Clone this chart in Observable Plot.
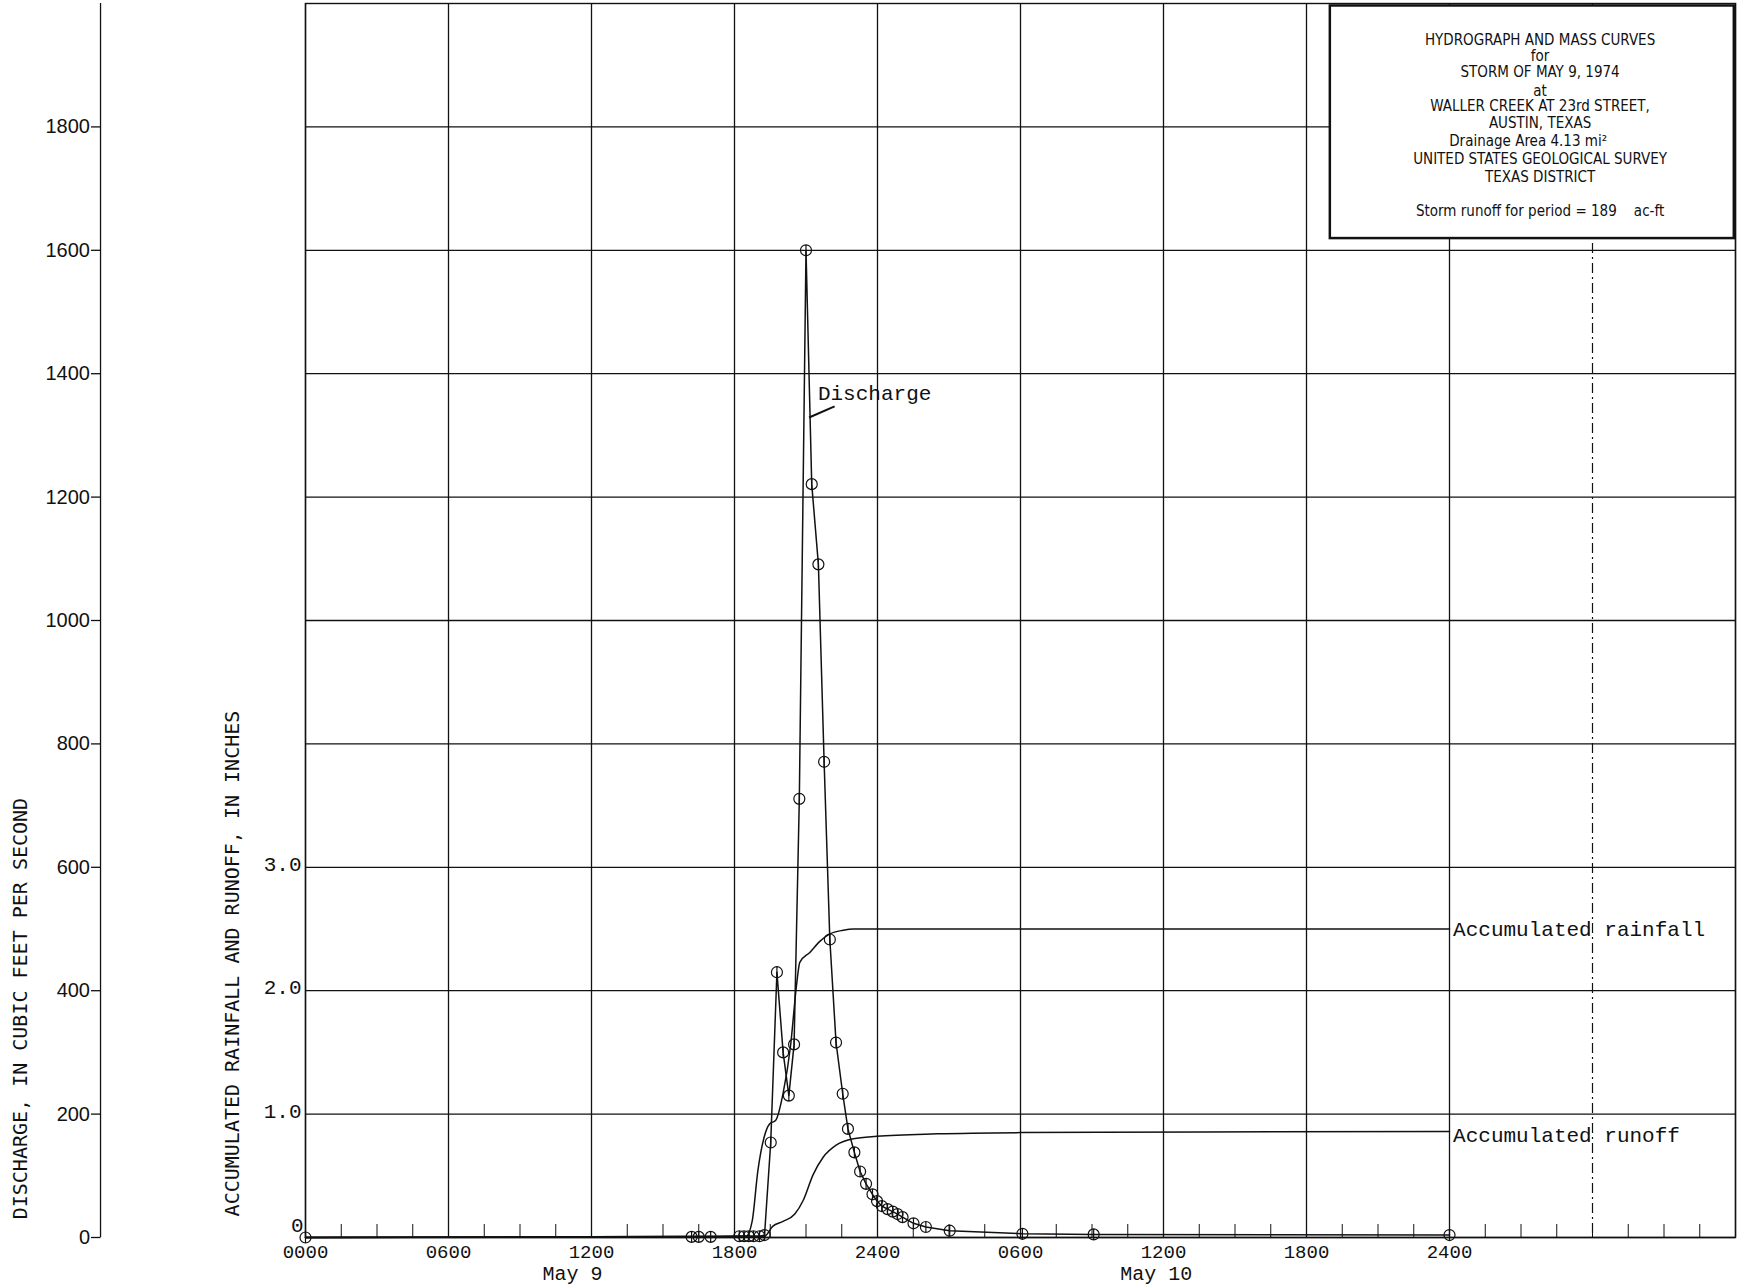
<!DOCTYPE html>
<html>
<head>
<meta charset="utf-8">
<script src="https://cdn.jsdelivr.net/npm/d3@7"></script>
<script src="https://cdn.jsdelivr.net/npm/@observablehq/plot@0.6"></script>
<style>
  body { margin: 0; background: #fff; }
</style>
</head>
<body>
<div id="chart"></div>
<script>
// discharge, cfs (hours from 0000 May 9)
const qHours = [0, 16.2, 16.5, 17.0, 18.2, 18.4, 18.6, 18.8, 19.05, 19.26, 19.52, 19.78, 20.04, 20.28, 20.5, 20.72, 21.0, 21.24, 21.52, 21.76, 22.0,
  22.26, 22.54, 22.76, 23.03, 23.27, 23.52, 23.79, 23.98, 24.18, 24.42, 24.64, 24.84, 25.05, 25.51, 26.03, 27.03, 30.08, 33.07, 48.0];
const qCfs = [0, 1, 1, 1, 2, 2, 2, 2, 2, 4, 154, 430, 300, 230, 313, 711, 1600, 1221, 1091, 771, 483,
  316, 233, 176, 138, 107, 87, 70, 59, 51, 46, 42, 38, 33, 23, 17, 11, 6, 5, 4];

// accumulated rainfall, inches
const rainHours = [0, 18.49, 18.74, 18.98, 19.24, 19.47, 19.73, 20.04, 20.35, 20.6, 20.74, 21.16, 21.58, 22.0, 22.56, 22.99, 48.0];
const rainIn = [0, 0.01, 0.13, 0.54, 0.81, 0.92, 0.95, 1.17, 1.55, 2.04, 2.23, 2.31, 2.40, 2.46, 2.49, 2.50, 2.50];

// accumulated runoff, inches
const runHours = [0, 19.26, 19.6, 20.04, 20.53, 20.88, 21.3, 21.72, 22.28, 22.99, 23.97, 26.5, 30.0, 37.7, 48.0];
const runIn = [0, 0.01, 0.09, 0.13, 0.19, 0.30, 0.51, 0.65, 0.75, 0.80, 0.82, 0.84, 0.85, 0.855, 0.86];

const xTickHours = [0, 6, 12, 18, 24, 30, 36, 42, 48];
const xTickLabels = ["0000", "0600", "1200", "1800", "2400", "0600", "1200", "1800", "2400"];
const qTicks = [0, 200, 400, 600, 800, 1000, 1200, 1400, 1600, 1800];
const inTicks = [1, 2, 3];
const inTickLabels = ["1.0", "2.0", "3.0"];
const boxLines = ["HYDROGRAPH AND MASS CURVES", "for", "STORM OF MAY 9, 1974", "at",
  "WALLER CREEK AT 23rd STREET,", "AUSTIN, TEXAS", "Drainage Area 4.13 mi\u00B2",
  "UNITED STATES GEOLOGICAL SURVEY", "TEXAS DISTRICT", "Storm runoff for period = 189    ac-ft"];
const boxY = [1940, 1915, 1889, 1858, 1833, 1806, 1777, 1748, 1719, 1663];

const cfsPerInch = 200;
const discharge = qHours.map((h, i) => ({h, q: qCfs[i]}));
const rain = rainHours.map((h, i) => ({h, q: rainIn[i] * cfsPerInch}));
const runoff = runHours.map((h, i) => ({h, q: runIn[i] * cfsPerInch}));

const mono = "Liberation Mono, DejaVu Sans Mono, monospace";
const narrow = "Liberation Sans Narrow, DejaVu Sans Condensed, Liberation Sans, sans-serif";
const qAxisX = -8.6; // separate discharge axis, left of frame

// circle with a vertical stroke through it
const circleBar = {
  draw(ctx, size) {
    const r = Math.sqrt(size / Math.PI);
    ctx.moveTo(r, 0);
    ctx.arc(0, 0, r, 0, 2 * Math.PI);
    ctx.moveTo(0, -r);
    ctx.lineTo(0, r);
  }
};

const chart = Plot.plot({
  width: 1746,
  height: 1286,
  marginLeft: 305,
  marginRight: 11,
  marginTop: 3,
  marginBottom: 49,
  x: {domain: [0, 60], axis: null},
  y: {domain: [0, 2000], axis: null},
  style: {background: "#fff", color: "#111"},
  marks: [
    // grid
    Plot.ruleX(d3.range(0, 61, 6).filter(h => h !== 54), {stroke: "#111", strokeWidth: 1.3}),
    Plot.ruleX([54], {stroke: "#111", strokeWidth: 1.2, strokeDasharray: "10,4,2,4"}),
    Plot.ruleY(d3.range(200, 2000, 200), {stroke: "#111", strokeWidth: 1.3}),
    Plot.ruleY([0], {stroke: "#111", strokeWidth: 1.6}),
    Plot.ruleX(d3.range(0, 60, 1.5), {y1: 0, y2: 21, stroke: "#111", strokeWidth: 1}),
    Plot.frame({stroke: "#111", strokeWidth: 1.4}),

    // title box
    Plot.rect([0], {x1: 43.0, x2: 59.95, y1: 1619, y2: 1996, fill: "#fff", stroke: "#111", strokeWidth: 2.5}),
    Plot.text(boxLines, {x: (d, i) => i === 6 ? 51.3 : 51.8, y: (d, i) => boxY[i], text: d => d,
      fontSize: 15, fontFamily: narrow, fill: "#111"}),

    // curves
    Plot.line(rain, {x: "h", y: "q", curve: "monotone-x", stroke: "#111", strokeWidth: 1.5}),
    Plot.line(runoff, {x: "h", y: "q", curve: "monotone-x", stroke: "#111", strokeWidth: 1.5}),
    Plot.line(discharge, {x: "h", y: "q", stroke: "#111", strokeWidth: 1.5}),
    Plot.dot(discharge, {x: "h", y: "q", r: 5.5, symbol: circleBar, stroke: "#111", strokeWidth: 1.2, fill: "none"}),

    // annotations
    Plot.text(["Discharge"], {x: 21.5, y: 1368, text: d => d, textAnchor: "start", fontSize: 21, fontFamily: mono, fill: "#111"}),
    Plot.link([0], {x1: 22.2, y1: 1347, x2: 21.13, y2: 1329, stroke: "#111", strokeWidth: 2}),
    Plot.text(["Accumulated rainfall"], {x: 48.15, y: 2.5 * cfsPerInch, text: d => d, textAnchor: "start", fontSize: 21, fontFamily: mono, fill: "#111"}),
    Plot.text(["Accumulated runoff"], {x: 48.15, y: 0.83 * cfsPerInch, text: d => d, textAnchor: "start", fontSize: 21, fontFamily: mono, fill: "#111"}),

    // x labels
    Plot.text(xTickHours, {x: d => d, y: 0, dy: 14, text: (d, i) => xTickLabels[i], fontSize: 19, fontFamily: mono, fill: "#111"}),
    Plot.text(["May 9", "May 10"], {x: [11.2, 35.7], y: 0, dy: 36, text: d => d, fontSize: 20, fontFamily: mono, fill: "#111"}),

    // rainfall axis labels
    Plot.text(inTicks, {x: 0, y: d => d * cfsPerInch, dx: -4, dy: -3, text: (d, i) => inTickLabels[i], textAnchor: "end", fontSize: 21, fontFamily: mono, fill: "#111"}),
    Plot.text(["0"], {x: 0, y: 0, dx: -2, dy: -12, text: d => d, textAnchor: "end", fontSize: 21, fontFamily: mono, fill: "#111"}),

    // discharge axis
    Plot.ruleX([qAxisX], {y1: 0, y2: 2000, stroke: "#111", strokeWidth: 1.3, clip: false}),
    Plot.link(qTicks, {x1: qAxisX - 0.4, x2: qAxisX, y1: d => d, y2: d => d, stroke: "#111", strokeWidth: 1.3}),
    Plot.text(qTicks, {x: qAxisX - 0.4, y: d => d, dx: -1, text: d => String(d), textAnchor: "end", fontSize: 20, fontFamily: "Liberation Sans, sans-serif", fill: "#111"}),

    // axis titles
    Plot.text(["DISCHARGE, IN CUBIC FEET PER SECOND"], {x: -11.95, y: 371, text: d => d, rotate: -90, fontSize: 20, fontFamily: "DejaVu Sans Mono, monospace", fill: "#111"}),
    Plot.text(["ACCUMULATED RAINFALL AND RUNOFF, IN INCHES"], {x: -3.06, y: 444, text: d => d, rotate: -90, fontSize: 20, fontFamily: "DejaVu Sans Mono, monospace", fill: "#111"})
  ]
});
d3.select("#chart").append(() => chart);
</script>
</body>
</html>
